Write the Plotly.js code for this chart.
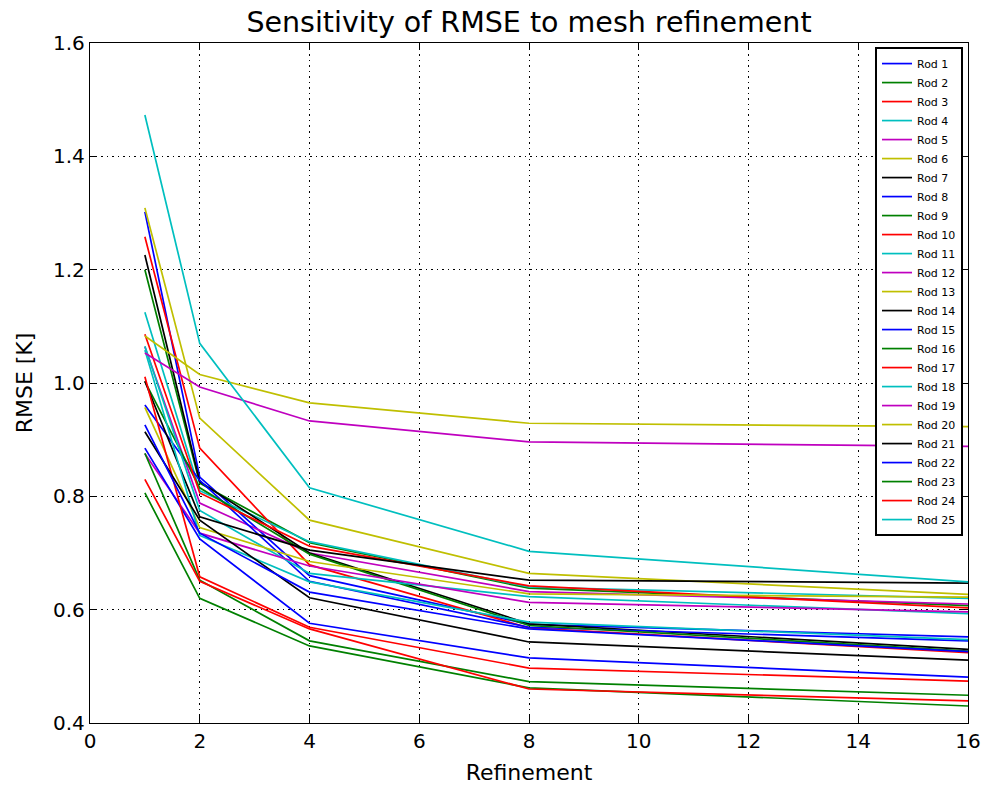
<!DOCTYPE html>
<html>
<head>
<meta charset="utf-8">
<script src="https://cdn.plot.ly/plotly-3.0.1.min.js"></script>
<style>html,body{margin:0;padding:0;background:#fff;}#chart{width:987px;height:786px;}</style>
</head>
<body>
<div id="chart"></div>
<script>
const refinement = [1, 2, 4, 8, 16];
const rodNames = ["Rod 1","Rod 2","Rod 3","Rod 4","Rod 5","Rod 6","Rod 7","Rod 8","Rod 9","Rod 10","Rod 11","Rod 12","Rod 13","Rod 14","Rod 15","Rod 16","Rod 17","Rod 18","Rod 19","Rod 20","Rod 21","Rod 22","Rod 23","Rod 24","Rod 25"];
const rod1  = [1.302, 0.834, 0.660, 0.574, 0.552];
const rod2  = [1.200, 0.823, 0.718, 0.638, 0.607];
const rod3  = [1.258, 0.885, 0.679, 0.568, 0.524];
const rod4  = [1.125, 0.810, 0.720, 0.640, 0.620];
const rod5  = [1.064, 0.788, 0.700, 0.632, 0.610];
const rod6  = [1.309, 0.938, 0.758, 0.664, 0.627];
const rod7  = [1.226, 0.826, 0.700, 0.575, 0.530];
const rod8  = [0.961, 0.828, 0.650, 0.569, 0.545];
const rod9  = [1.003, 0.815, 0.698, 0.572, 0.527];
const rod10 = [1.086, 0.806, 0.712, 0.642, 0.603];
const rod11 = [1.065, 0.775, 0.664, 0.623, 0.593];
const rod12 = [0.875, 0.735, 0.677, 0.613, 0.596];
const rod13 = [0.957, 0.745, 0.685, 0.628, 0.622];
const rod14 = [1.003, 0.764, 0.705, 0.652, 0.647];
const rod15 = [0.885, 0.725, 0.576, 0.515, 0.481];
const rod16 = [0.876, 0.652, 0.545, 0.473, 0.449];
const rod17 = [1.011, 0.658, 0.569, 0.497, 0.474];
const rod18 = [1.058, 0.731, 0.649, 0.578, 0.547];
const rod19 = [1.053, 0.993, 0.933, 0.896, 0.888];
const rod20 = [1.083, 1.015, 0.965, 0.929, 0.923];
const rod21 = [0.914, 0.758, 0.621, 0.543, 0.511];
const rod22 = [0.926, 0.735, 0.631, 0.566, 0.526];
const rod23 = [0.806, 0.620, 0.536, 0.462, 0.430];
const rod24 = [0.830, 0.650, 0.566, 0.460, 0.439];
const rod25 = [1.473, 1.070, 0.815, 0.703, 0.649];
const rodValues = [rod1,rod2,rod3,rod4,rod5,rod6,rod7,rod8,rod9,rod10,rod11,rod12,rod13,rod14,rod15,rod16,rod17,rod18,rod19,rod20,rod21,rod22,rod23,rod24,rod25];
const colorCycle = ["#0000ff","#008000","#ff0000","#00bfbf","#bf00bf","#bfbf00","#000000"];
const xTicks = [0, 2, 4, 6, 8, 10, 12, 14, 16];
const yTicks = [0.4, 0.6, 0.8, 1.0, 1.2, 1.4, 1.6];

const traces = rodValues.map((vals, i) => ({
  x: refinement, y: vals, name: rodNames[i], type: 'scatter', mode: 'lines',
  line: {color: colorCycle[i % colorCycle.length], width: 1.7}
}));

const font = 'DejaVu Sans, sans-serif';
const axisCommon = {
  showline: true, linecolor: '#000', linewidth: 1.2, mirror: 'ticks',
  ticks: 'inside', ticklen: 7, tickwidth: 1, tickcolor: '#000',
  showgrid: true, gridcolor: '#000', gridwidth: 1, griddash: '1.5px,4px',
  zeroline: false, tickfont: {family: font, size: 20, color: '#000'}
};
const layout = {
  width: 987, height: 786,
  margin: {l: 90, r: 19, t: 43, b: 63},
  paper_bgcolor: '#fff', plot_bgcolor: '#fff',
  title: {text: 'Sensitivity of RMSE to mesh refinement', font: {family: font, size: 28.5, color: '#000'}, xref: 'paper', x: 0.5, xanchor: 'center', y: 0.985, yanchor: 'top'},
  xaxis: Object.assign({}, axisCommon, {range: [0, 16], tickvals: xTicks, ticktext: xTicks.map(String),
    title: {text: 'Refinement', font: {family: font, size: 22, color: '#000'}, standoff: 12}}),
  yaxis: Object.assign({}, axisCommon, {range: [0.4, 1.6], tickvals: yTicks, ticktext: yTicks.map(v => v.toFixed(1)),
    title: {text: 'RMSE [K]', font: {family: font, size: 22, color: '#000'}, standoff: 14}}),
  legend: {x: 0.9943, y: 0.994, xanchor: 'right', yanchor: 'top', bgcolor: '#fff', bordercolor: '#000', borderwidth: 2,
    font: {family: font, size: 11, color: '#000'}, tracegroupgap: 0, itemwidth: 30},
  showlegend: true
};
Plotly.newPlot('chart', traces, layout, {displayModeBar: false, staticPlot: true});
</script>
</body>
</html>
